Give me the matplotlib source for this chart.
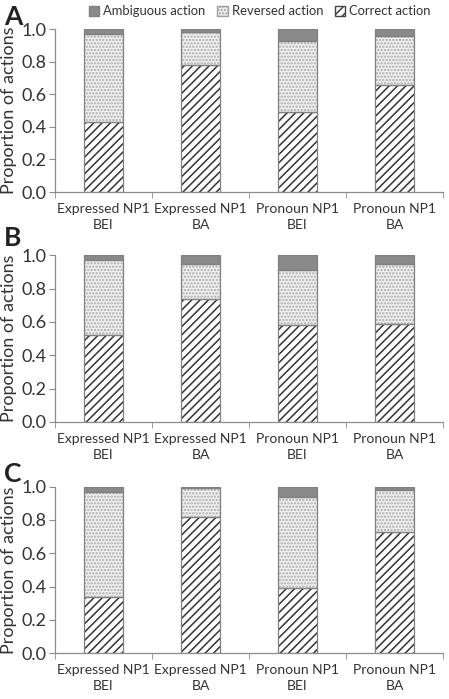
import matplotlib.pyplot as plt
import numpy as np
from matplotlib.patches import Patch

plt.rcParams['font.family'] = ['Lato', 'DejaVu Sans']
plt.rcParams['hatch.linewidth'] = 1.1

categories = ['Expressed NP1\nBEI', 'Expressed NP1\nBA', 'Pronoun NP1\nBEI', 'Pronoun NP1\nBA']
panels = ['A', 'B', 'C']

correct_a = [0.43, 0.78, 0.49, 0.66]
reversed_a = [0.54, 0.20, 0.44, 0.30]
ambiguous_a = [0.03, 0.02, 0.07, 0.04]

correct_b = [0.52, 0.74, 0.58, 0.59]
reversed_b = [0.45, 0.21, 0.33, 0.36]
ambiguous_b = [0.03, 0.05, 0.09, 0.05]

correct_c = [0.34, 0.82, 0.39, 0.73]
reversed_c = [0.63, 0.17, 0.55, 0.25]
ambiguous_c = [0.03, 0.01, 0.06, 0.02]

data = [(correct_a, reversed_a, ambiguous_a),
        (correct_b, reversed_b, ambiguous_b),
        (correct_c, reversed_c, ambiguous_c)]

EDGE = '#808080'
AXIS = '#8c8c8c'

fig = plt.figure(figsize=(4.49, 6.99), dpi=100)
boxes = [(0.1225, 0.7253, 0.864, 0.233),
         (0.1225, 0.3963, 0.864, 0.2386),
         (0.1225, 0.0654, 0.864, 0.2386)]
# letter centres in figure pixels from the top
letter_y = [17, 238, 474]

x = np.arange(len(categories))
w = 0.4

for box, letter, ly, (cor, rev, amb) in zip(boxes, panels, letter_y, data):
    ax = fig.add_axes(box)
    cor = np.array(cor)
    rev = np.array(rev)
    amb = np.array(amb)
    # correct: dense diagonal hatch
    ax.bar(x, cor, w, color='white', edgecolor='#333333', hatch='////', linewidth=0)
    # reversed: fine dotted light grey
    ax.bar(x, rev, w, bottom=cor, color='#f0f0f0', edgecolor='#aaaaaa', hatch='.....', linewidth=0)
    # ambiguous: solid grey
    ax.bar(x, amb, w, bottom=cor + rev, color='#8a8a8a', linewidth=0)
    # outlines
    ax.bar(x, cor, w, fill=False, edgecolor=EDGE, linewidth=0.9)
    ax.bar(x, rev, w, bottom=cor, fill=False, edgecolor=EDGE, linewidth=0.9)
    ax.bar(x, amb, w, bottom=cor + rev, fill=False, edgecolor=EDGE, linewidth=0.9)

    ax.set_xlim(-0.5, 3.5)
    ax.set_ylim(0, 1.0)
    ax.set_yticks(np.arange(0, 1.01, 0.2))
    ax.set_yticklabels(['%.1f' % v for v in np.arange(0, 1.01, 0.2)], fontsize=13)
    ax.set_xticks(x)
    ax.set_xticklabels(categories, fontsize=10, color='#333333', linespacing=1.4)
    ax.tick_params(axis='x', length=0, pad=8)
    ax.set_xticks(np.arange(-0.5, 3.6, 1.0), minor=True)
    ax.tick_params(axis='x', which='minor', length=4, color=AXIS, direction='out')
    ax.tick_params(axis='y', length=4, color=AXIS, direction='out', pad=2, labelcolor='#333333')
    for s in ['top', 'right']:
        ax.spines[s].set_visible(False)
    for s in ['left', 'bottom']:
        ax.spines[s].set_color(AXIS)
        ax.spines[s].set_linewidth(0.9)
    ax.set_ylabel('Proportion of actions', fontsize=13, color='#333333', labelpad=3)
    fig.text(4 / 449, 1 - ly / 699, letter, fontsize=19, fontweight='bold',
             ha='left', va='center', color='#222222')

handles = [Patch(facecolor='#8a8a8a', edgecolor=EDGE, label='Ambiguous action'),
           Patch(facecolor='#f0f0f0', edgecolor='#a0a0a0', hatch='.....', label='Reversed action'),
           Patch(facecolor='white', edgecolor='#444444', hatch='////', label='Correct action')]
fig.legend(handles=handles, loc='center', bbox_to_anchor=(0.579, 0.984), ncol=3, frameon=False,
           fontsize=9.4, handlelength=0.8, handleheight=0.8, handletextpad=0.3, columnspacing=0.9,
           labelcolor='#333333')

fig.savefig('out.png', dpi=100)
